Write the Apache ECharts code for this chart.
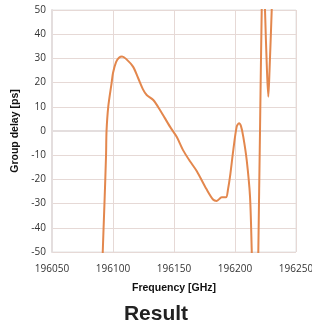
<!DOCTYPE html>
<html>
<head>
<meta charset="utf-8">
<script src="https://cdn.jsdelivr.net/npm/echarts@6/dist/echarts.min.js"></script>
<style>
  html, body { margin: 0; padding: 0; background: #fff; }
  #chart { width: 312px; height: 320px; }
</style>
</head>
<body>
<div id="chart"></div>
<script>
// 주파수 (GHz)
var freq = [
  196091.2, 196091.6, 196093.0, 196094.3, 196094.7, 196096.1, 196098.9, 196100.0,
  196102.5, 196104.9, 196107.4, 196110.7, 196116.4, 196120.5, 196124.8, 196127.6,
  196133.0, 196138.5, 196146.7, 196152.2, 196157.4, 196163.1, 196168.6, 196176.6,
  196182.0, 196185.0, 196189.1, 196192.6, 196194.3, 196195.9, 196198.6, 196201.4,
  196203.3, 196204.9, 196206.8, 196209.6, 196212.3, 196213.7, 196214.2,
  196218.9, 196219.1, 196220.5, 196221.9, 196222.5, 196224.2, 196224.6, 196226.2,
  196227.3, 196228.3, 196230.1, 196230.7
];
// 군지연 (ps)
var delay = [
  -60, -50, -30, -10, 0, 10, 20, 24,
  28.5, 30.3, 30.8, 29.8, 26.6, 22, 17, 14.9,
  12.8, 8.7, 1.8, -2.4, -7.9, -12.5, -16.5, -24,
  -28.3, -28.9, -27.4, -27.4, -24, -18.9, -7.9, 1.8,
  3.2, 2, -2.4, -12, -27, -49, -60,
  -60, -50, 0, 50, 60, 60, 50, 25,
  14.2, 25, 50, 60
];
var xTicks = [196050, 196250, 50];
var yTicks = [-50, 50, 10];

var myChart = echarts.init(document.getElementById('chart'));
var points = freq.map(function (f, i) { return [f, delay[i]]; });

var option = {
  animation: false,
  title: {
    text: 'Result',
    left: 'center',
    top: 299,
    textStyle: { fontFamily: 'Liberation Sans', fontWeight: 'bold', fontSize: 21, color: '#222' }
  },
  grid: {
    left: 52, right: 16, top: 10, bottom: 68,
    containLabel: false, outerBoundsMode: 'none',
    show: true, borderColor: '#e2e2e2', borderWidth: 1
  },
  xAxis: {
    type: 'value',
    min: xTicks[0], max: xTicks[1], interval: xTicks[2],
    name: 'Frequency [GHz]',
    nameLocation: 'middle',
    nameGap: 31,
    nameTextStyle: { fontFamily: 'Liberation Sans', fontWeight: 'bold', fontSize: 10.5, color: '#111' },
    axisLine: { show: true, lineStyle: { color: '#e4dede', width: 2 } },
    axisTick: { show: false },
    axisLabel: {
      fontFamily: 'Open Sans', fontSize: 10, color: '#333', margin: 12, showMaxLabel: true,
      formatter: function (v) { return String(v); }
    },
    splitLine: { lineStyle: { color: '#e6d9d6' } }
  },
  yAxis: {
    type: 'value',
    min: yTicks[0], max: yTicks[1], interval: yTicks[2],
    name: 'Group delay [ps]',
    nameLocation: 'middle',
    nameGap: 28,
    nameTextStyle: { fontFamily: 'Liberation Sans', fontWeight: 'bold', fontSize: 10.5, color: '#111' },
    axisLine: { show: true, lineStyle: { color: '#e4dede', width: 2 } },
    axisTick: { show: false },
    axisLabel: { fontFamily: 'Open Sans', fontSize: 10, color: '#333', margin: 6 },
    splitLine: { lineStyle: { color: '#e6d9d6' } }
  },
  series: [{
    type: 'line',
    data: points,
    smooth: 0.3,
    showSymbol: false,
    clip: true,
    lineStyle: { color: '#e3874d', width: 2 }
  }]
};
myChart.setOption(option);
</script>
</body>
</html>
